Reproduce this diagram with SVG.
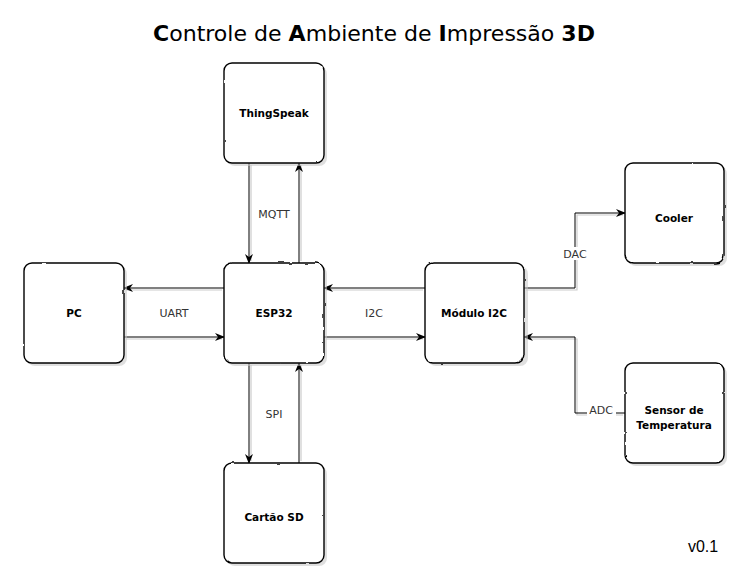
<svg xmlns="http://www.w3.org/2000/svg" width="749" height="582" viewBox="0 0 749 582">
  <defs>
    <filter id="rough" x="-5%" y="-5%" width="110%" height="110%">
      <feTurbulence type="fractalNoise" baseFrequency="0.08" numOctaves="2" seed="3" result="n"/>
      <feDisplacementMap in="SourceGraphic" in2="n" scale="2.2" xChannelSelector="R" yChannelSelector="G"/>
    </filter>
    <marker id="arr" viewBox="0 0 10 10" refX="9" refY="5" markerWidth="10" markerHeight="10" markerUnits="userSpaceOnUse" orient="auto">
      <path d="M0,1 L10,5 L0,9 L3,5 Z" fill="#000"/>
    </marker>
  </defs>
  <style>
    .box { fill: #fff; stroke: #000; stroke-width: 1.4; }
    .shadow { fill: #c4c4c4; opacity: 0.55; }
    .lbl { font-family: "DejaVu Sans", "Liberation Sans", sans-serif; font-size: 10.5px; font-weight: bold; text-anchor: middle; fill: #000; }
    .elbl { font-family: "DejaVu Sans", "Liberation Sans", sans-serif; font-size: 11px; text-anchor: middle; fill: #333; }
    .edge { fill: none; stroke: #000; stroke-width: 1; marker-end: url(#arr); }
    .eshadow { fill: none; stroke: #ccc; stroke-width: 1.2; }
    .title { font-family: "DejaVu Sans", "Liberation Sans", sans-serif; font-size: 21px; fill: #000; }
  </style>
  <rect width="749" height="582" fill="#fff"/>
  <text class="title" x="374" y="41" text-anchor="middle" textLength="442" lengthAdjust="spacingAndGlyphs"><tspan font-weight="bold">C</tspan>ontrole de <tspan font-weight="bold">A</tspan>mbiente de <tspan font-weight="bold">I</tspan>mpressão <tspan font-weight="bold">3D</tspan></text>

  <g id="connectors">
    <g class="eshadows">
      <path class="eshadow" d="M251,165 V261 M301,261 V165 M126,290 H222 M126,339 H222 M326,290 H423 M326,339 H423 M526,290 H577 V215 H623 M623,415 H577 V339 H526 M251,365 V461 M301,461 V365"/>
    </g>
    <path id="e1" class="edge" d="M249,163 V263"/>
    <path id="e2" class="edge" d="M299,263 V163"/>
    <path id="e3" class="edge" d="M224,288 H124"/>
    <path id="e4" class="edge" d="M124,337 H224"/>
    <path id="e5" class="edge" d="M425,288 H324"/>
    <path id="e6" class="edge" d="M324,337 H425"/>
    <path id="e7" class="edge" d="M524,288 H575 V213 H625"/>
    <path id="e8" class="edge" d="M625,413 H575 V337 H524"/>
    <path id="e9" class="edge" d="M249,363 V463"/>
    <path id="e10" class="edge" d="M299,463 V363"/>
    <text class="elbl" x="274" y="218">MQTT</text>
    <text class="elbl" x="174" y="317">UART</text>
    <text class="elbl" x="374" y="317">I2C</text>
    <rect x="560" y="247" width="30" height="13" fill="#fff"/>
    <text class="elbl" x="575" y="258">DAC</text>
    <rect x="587" y="405" width="29" height="13" fill="#fff"/>
    <text class="elbl" x="601" y="414">ADC</text>
    <text class="elbl" x="274" y="418">SPI</text>
  </g>

  <g id="thingspeak">
    <rect class="shadow" x="227" y="66" width="100" height="100" rx="8"/>
    <rect class="box" x="224" y="63" width="100" height="100" rx="8" filter="url(#rough)"/>
    <text class="lbl" x="274" y="117">ThingSpeak</text>
  </g>
  <g id="pc">
    <rect class="shadow" x="27" y="266" width="100" height="100" rx="8"/>
    <rect class="box" x="24" y="263" width="100" height="100" rx="8" filter="url(#rough)"/>
    <text class="lbl" x="74" y="317">PC</text>
  </g>
  <g id="esp32">
    <rect class="shadow" x="227" y="266" width="100" height="100" rx="8"/>
    <rect class="box" x="224" y="263" width="100" height="100" rx="8" filter="url(#rough)"/>
    <text class="lbl" x="274" y="317">ESP32</text>
  </g>
  <g id="modulo">
    <rect class="shadow" x="428" y="266" width="100" height="100" rx="8"/>
    <rect class="box" x="425" y="263" width="99" height="100" rx="8" filter="url(#rough)"/>
    <text class="lbl" x="474" y="317">Módulo I2C</text>
  </g>
  <g id="cooler">
    <rect class="shadow" x="628" y="166" width="99" height="100" rx="8"/>
    <rect class="box" x="625" y="163" width="99" height="100" rx="8" filter="url(#rough)"/>
    <text class="lbl" x="674" y="222">Cooler</text>
  </g>
  <g id="sensor">
    <rect class="shadow" x="628" y="366" width="99" height="100" rx="8"/>
    <rect class="box" x="625" y="363" width="99" height="100" rx="8" filter="url(#rough)"/>
    <text class="lbl" x="674" y="414">Sensor de</text>
    <text class="lbl" x="674" y="429">Temperatura</text>
  </g>
  <g id="cartao">
    <rect class="shadow" x="227" y="466" width="100" height="100" rx="8"/>
    <rect class="box" x="224" y="463" width="100" height="100" rx="8" filter="url(#rough)"/>
    <text class="lbl" x="274" y="521">Cartão SD</text>
  </g>
  <text x="703" y="552" text-anchor="middle" font-family="Liberation Sans, sans-serif" font-size="16" fill="#000">v0.1</text>
</svg>
